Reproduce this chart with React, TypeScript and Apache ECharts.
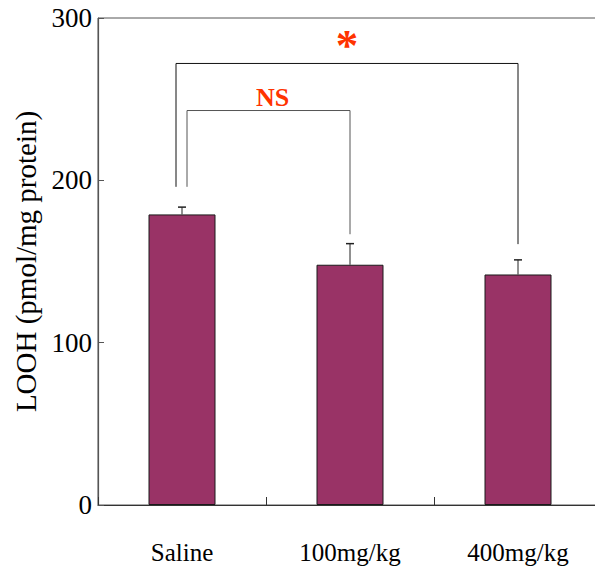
import React, { useEffect, useRef } from "react";
import * as echarts from "echarts";

const categories = ["Saline", "100mg/kg", "400mg/kg"];
const means = [179, 148, 142];
const errors = [4.5, 13, 9];

const bracketFrom = [0, 0];
const bracketTo = [2, 1];
const bracketTop = [272, 243];
const bracketLeftFoot = [196, 196];
const bracketRightFoot = [160.7, 166.8];
const bracketLabels = ["*", "NS"];

const yMin = 0;
const yMax = 300;
const yInterval = 100;

const SERIF = "Liberation Serif";
const RED = "#ff3300";
const bracketLeftOffset = [-6, 5];
const bracketLabelStyle = [
  { size: 45, dy: -18, dx: 0 },
  { size: 26, dy: -13, dx: 4 },
];

export default function App() {
  const ref = useRef<HTMLDivElement>(null);
  useEffect(() => {
    if (!ref.current) return;
    const chart = echarts.init(ref.current, null, { renderer: "svg" });
    const errData = means.map((m, i) => [i, m, m + errors[i]]);
    const brData = bracketFrom.map((f, i) => [
      f,
      bracketTo[i],
      bracketTop[i],
      bracketLeftFoot[i],
      bracketRightFoot[i],
    ]);
    chart.setOption({
      animation: false,
      backgroundColor: "#fff",
      textStyle: { fontFamily: SERIF },
      grid: {
        left: 98,
        top: 18,
        width: 504,
        height: 487,
        show: true,
        borderColor: "#555",
        borderWidth: 1,
        backgroundColor: "transparent",
      },
      xAxis: {
        type: "category",
        data: categories,
        boundaryGap: true,
        axisLine: { show: true, lineStyle: { color: "#333", width: 1.2 } },
        axisTick: { show: true, inside: true, length: 8, lineStyle: { color: "#333" } },
        axisLabel: { margin: 35, fontSize: 25, fontFamily: SERIF, color: "#000" },
        splitLine: { show: false },
      },
      yAxis: {
        type: "value",
        min: yMin,
        max: yMax,
        interval: yInterval,
        name: "LOOH (pmol/mg protein)",
        nameLocation: "middle",
        nameGap: 50,
        nameTextStyle: { fontSize: 29, fontFamily: SERIF, color: "#000" },
        axisLine: { show: true, lineStyle: { color: "#555", width: 1.2 } },
        axisTick: { show: true, inside: true, length: 6, lineStyle: { color: "#555" } },
        axisLabel: { margin: 6, fontSize: 27, fontFamily: SERIF, color: "#000" },
        splitLine: { show: false },
      },
      series: [
        {
          type: "bar",
          data: means,
          barWidth: 67,
          itemStyle: { color: "#993366", borderColor: "#1a1a1a", borderWidth: 1 },
          z: 2,
        },
        {
          type: "custom",
          data: errData,
          encode: { x: 0, y: [1, 2] },
          z: 3,
          renderItem: (params: any, api: any) => {
            const base = api.coord([api.value(0), api.value(1)]);
            const top = api.coord([api.value(0), api.value(2)]);
            const cap = 4;
            return {
              type: "group",
              children: [
                {
                  type: "line",
                  shape: { x1: base[0], y1: base[1], x2: top[0], y2: top[1] },
                  style: { stroke: "#222", lineWidth: 1 },
                },
                {
                  type: "line",
                  shape: { x1: top[0] - cap, y1: top[1], x2: top[0] + cap, y2: top[1] },
                  style: { stroke: "#222", lineWidth: 1.5 },
                },
              ],
            };
          },
        },
        {
          type: "custom",
          data: brData,
          encode: { x: [0, 1], y: [2, 3, 4] },
          z: 4,
          clip: false,
          renderItem: (params: any, api: any) => {
            const i = params.dataIndex;
            const from = api.value(0);
            const to = api.value(1);
            const topL = api.coord([from, api.value(2)]);
            const topR = api.coord([to, api.value(2)]);
            const lf = api.coord([from, api.value(3)]);
            const rf = api.coord([to, api.value(4)]);
            const xL = topL[0] + bracketLeftOffset[i];
            const xR = topR[0];
            const ls = bracketLabelStyle[i];
            return {
              type: "group",
              children: [
                {
                  type: "polyline",
                  shape: {
                    points: [
                      [xL, lf[1]],
                      [xL, topL[1]],
                      [xR, topR[1]],
                      [xR, rf[1]],
                    ],
                  },
                  style: { stroke: i === 0 ? "#111" : "#555", lineWidth: 1, fill: "none" },
                },
                {
                  type: "text",
                  x: (xL + xR) / 2 + ls.dx,
                  y: topL[1] + ls.dy,
                  style: {
                    text: bracketLabels[i],
                    fill: RED,
                    fontSize: ls.size,
                    fontWeight: "bold",
                    fontFamily: SERIF,
                    align: "center",
                    verticalAlign: "middle",
                  },
                },
              ],
            };
          },
        },
      ],
    });
    return () => chart.dispose();
  }, []);
  return (
    <div
      style={{
        position: "fixed",
        left: 0,
        top: 0,
        width: 595,
        height: 569,
        overflow: "hidden",
        background: "#fff",
      }}
    >
      <div ref={ref} style={{ width: 620, height: 569 }} />
    </div>
  );
}
